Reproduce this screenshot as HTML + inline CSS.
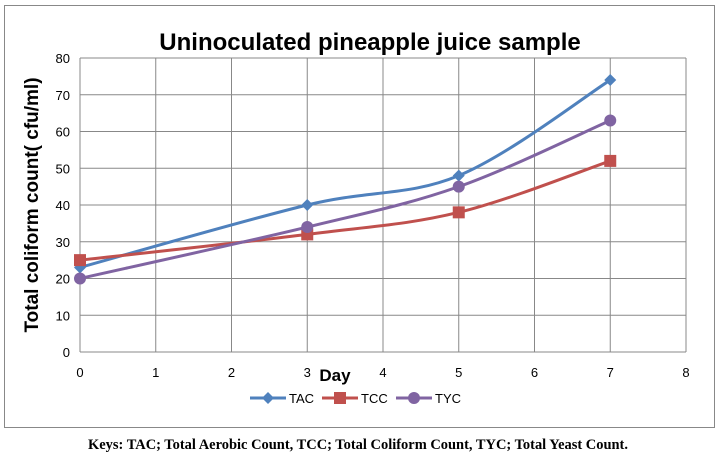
<!DOCTYPE html>
<html><head><meta charset="utf-8"><style>
body{margin:0;background:#fff;width:720px;height:456px;overflow:hidden}
svg{display:block}
</style></head><body>
<svg width="720" height="456" xmlns="http://www.w3.org/2000/svg" font-family="Liberation Sans, sans-serif">
<rect x="4.5" y="5.5" width="710" height="422" fill="#fff" stroke="#888" stroke-width="1"/>
<text x="370" y="50" text-anchor="middle" font-size="24" font-weight="bold">Uninoculated pineapple juice sample</text>
<g id="grid"></g>
<g id="series"></g>
<text transform="translate(38,205) rotate(-90)" text-anchor="middle" font-size="19" font-weight="bold">Total coliform count( cfu/ml)</text>
<text x="335" y="381" text-anchor="middle" font-size="17" font-weight="bold">Day</text>
<g font-size="13">
<g><line x1="250" y1="398" x2="286" y2="398" stroke="#4f81bd" stroke-width="3"/><path d="M268 392 L274 398 L268 404 L262 398Z" fill="#4f81bd"/><text x="289" y="403">TAC</text></g>
<g><line x1="322" y1="398" x2="358" y2="398" stroke="#c0504d" stroke-width="3"/><rect x="334" y="392" width="12" height="12" fill="#c0504d"/><text x="361" y="403">TCC</text></g>
<g><line x1="396" y1="398" x2="432" y2="398" stroke="#8064a2" stroke-width="3"/><circle cx="414" cy="398" r="6" fill="#8064a2"/><text x="435" y="403">TYC</text></g>
</g>
<text x="358" y="449" text-anchor="middle" font-family="Liberation Serif, serif" font-size="14.5" font-weight="bold" textLength="540" lengthAdjust="spacingAndGlyphs">Keys: TAC; Total Aerobic Count, TCC; Total Coliform Count, TYC; Total Yeast Count.</text>
</svg>
<script>
const days=[0,3,5,7];
const tac=[23,40,48,74];
const tcc=[25,32,38,52];
const tyc=[20,34,45,63];
const xTicks=[0,1,2,3,4,5,6,7,8];
const yTicks=[0,10,20,30,40,50,60,70,80];
const NS='http://www.w3.org/2000/svg';
const X0=80,X1=686,Y0=352,Y1=58;
const sx=v=>X0+(v-0)/(8-0)*(X1-X0);
const sy=v=>Y0-(v-0)/(80-0)*(Y0-Y1);
function mk(t,a,p){const e=document.createElementNS(NS,t);for(const k in a)e.setAttribute(k,a[k]);p.appendChild(e);return e;}
const g=document.getElementById('grid');
yTicks.forEach(v=>{
  const l=mk('line',{x1:X0,x2:X1,y1:sy(v),y2:sy(v),stroke:'#888','stroke-width':1},g);
  
  
  const t=mk('text',{x:X0-10,y:sy(v)+5,'text-anchor':'end','font-size':13},g);
  
  
  t.textContent=v;
});
xTicks.forEach(v=>{
  const l=mk('line',{x1:sx(v),x2:sx(v),y1:Y1,y2:Y0,stroke:'#888','stroke-width':1},g);
  
  
  const t=mk('text',{x:sx(v),y:Y0+25,'text-anchor':'middle','font-size':13},g);
  
  
  t.textContent=v;
});
function smooth(pts){
  let d='M'+pts[0][0]+' '+pts[0][1];
  for(let i=0;i<pts.length-1;i++){
    const p0=pts[i-1]||pts[i],p1=pts[i],p2=pts[i+1],p3=pts[i+2]||p2;
    const c1=[p1[0]+(p2[0]-p0[0])/6,p1[1]+(p2[1]-p0[1])/6];
    const c2=[p2[0]-(p3[0]-p1[0])/6,p2[1]-(p3[1]-p1[1])/6];
    d+=' C'+c1[0]+' '+c1[1]+' '+c2[0]+' '+c2[1]+' '+p2[0]+' '+p2[1];
  }
  return d;
}
const s=document.getElementById('series');
[[tac,'#4f81bd','diamond','tac'],[tcc,'#c0504d','square','tcc'],[tyc,'#8064a2','circle','tyc']].forEach(([vals,c,m,n])=>{
  const pts=days.map((d,i)=>[sx(d),sy(vals[i])]);
  const p=mk('path',{d:smooth(pts),fill:'none',stroke:c,'stroke-width':3},s);
  
  
  pts.forEach(([x,y])=>{
    let e;
    if(m==='diamond')e=mk('path',{d:`M${x} ${y-6}L${x+6} ${y}L${x} ${y+6}L${x-6} ${y}Z`,fill:c},s);
    else if(m==='square')e=mk('rect',{x:x-6,y:y-6,width:12,height:12,fill:c},s);
    else e=mk('circle',{cx:x,cy:y,r:6,fill:c},s);
    
    
  });
});
</script>
</body></html>
